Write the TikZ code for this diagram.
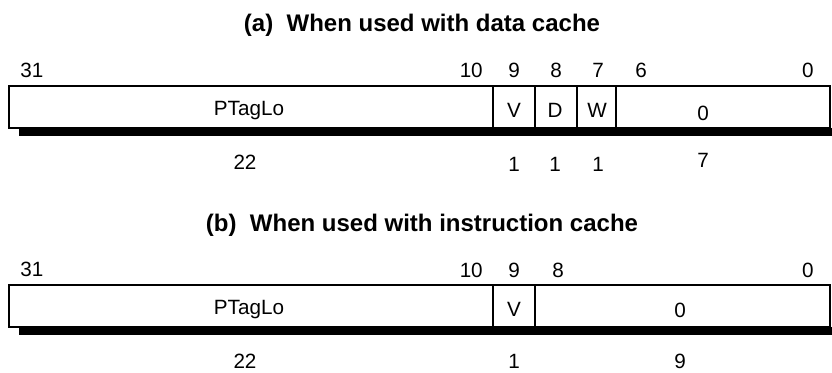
\documentclass[tikz,border=0pt]{standalone}
\usepackage{fontspec}
\setmainfont{Liberation Sans}
\usepackage{tikz}
\usetikzlibrary{positioning}
\newcommand{\regfont}{\fontsize{15.5}{18}\selectfont}
\newcommand{\capfont}{\fontsize{18}{22}\selectfont\bfseries}
\tikzset{
  regbox/.style={draw=black,fill=white,line width=0.8pt},
  regshadow/.style={fill=black},
  divider/.style={black,line width=0.8pt},
  bitnum/.style={inner sep=0pt,anchor=base,font=\regfont},
  fieldname/.style={inner sep=0pt,anchor=base,font=\regfont},
  fieldwidth/.style={inner sep=0pt,anchor=base,font=\regfont},
  caption/.style={inner sep=0pt,anchor=base,font=\capfont}
}

\begin{document}
\begin{tikzpicture}[x=0.75pt,y=-0.75pt]
\useasboundingbox (0,0) rectangle (832,373);
% (a) data cache
\node[caption] (capa) at (422,32) {(a)\ \ When used with data cache};
\fill[regshadow] (19,128) rectangle (832,136);
\draw[regbox] (9,86) rectangle (830,128);
\foreach \x in {493,535,577,616} \draw[divider] (\x,86) -- (\x,128);
\node[bitnum,anchor=base west] (a31) at (20,78) {31};
\node[bitnum,anchor=base east] (a10) at (483,78) {10};
\node[bitnum] (a9) at (514,78) {9};
\node[bitnum] (a8) at (556,78) {8};
\node[bitnum] (a7) at (598,78) {7};
\node[bitnum,anchor=base west] (a6) at (635,78) {6};
\node[bitnum,anchor=base east] (a0) at (814,78) {0};
\node[fieldname] (aptag) at (249,116) {PTagLo};
\node[fieldname] (av) at (514,118) {V};
\node[fieldname] (ad) at (555,118) {D};
\node[fieldname] (aw) at (597,118) {W};
\node[fieldname] (azero) at (703,121) {0};
\node[fieldwidth] (aw22) at (245,170) {22};
\node[fieldwidth] (awv) at (514,172) {1};
\node[fieldwidth] (awd) at (555,172) {1};
\node[fieldwidth] (aww) at (598,172) {1};
\node[fieldwidth] (aw7) at (703,168) {7};
% (b) instruction cache
\node[caption] (capb) at (422,232) {(b)\ \ When used with instruction cache};
\fill[regshadow] (19,327) rectangle (832,335);
\draw[regbox] (9,285) rectangle (830,327);
\foreach \x in {493,535} \draw[divider] (\x,285) -- (\x,327);
\node[bitnum,anchor=base west] (b31) at (20,277) {31};
\node[bitnum,anchor=base east] (b10) at (483,278) {10};
\node[bitnum] (b9) at (514,278) {9};
\node[bitnum,anchor=base west] (b8) at (552,278) {8};
\node[bitnum,anchor=base east] (b0) at (814,278) {0};
\node[fieldname] (bptag) at (249,315) {PTagLo};
\node[fieldname] (bv) at (514,317) {V};
\node[fieldname] (bzero) at (680,318) {0};
\node[fieldwidth] (bw22) at (245,369) {22};
\node[fieldwidth] (bwv) at (514,369) {1};
\node[fieldwidth] (bw9) at (680,369) {9};
\end{tikzpicture}
\end{document}
